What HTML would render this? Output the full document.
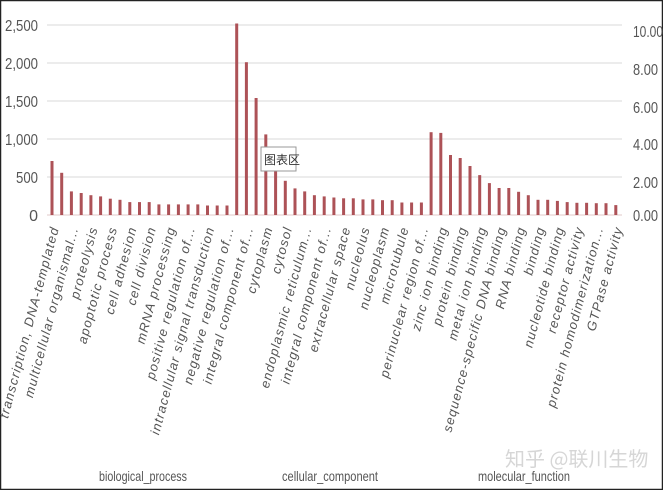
<!DOCTYPE html>
<html><head><meta charset="utf-8"><style>
body{margin:0;background:#fff}
svg{display:block}
</style></head><body>
<svg width="663" height="490" xmlns="http://www.w3.org/2000/svg" font-family="Liberation Sans, sans-serif">
<rect x="0.5" y="0.5" width="662" height="489" fill="#fff" stroke="#222" stroke-width="1.5"/>
<g stroke="#d9d9d9" stroke-width="1">
<line x1="47" x2="622" y1="25" y2="25"/><line x1="47" x2="622" y1="63" y2="63"/>
<line x1="47" x2="622" y1="101" y2="101"/><line x1="47" x2="622" y1="139" y2="139"/>
<line x1="47" x2="622" y1="177" y2="177"/><line x1="47" x2="622" y1="215" y2="215" stroke="#e0c8c8"/>
</g>
<g fill="#555" font-size="16" text-anchor="end">
<text x="38" y="31" textLength="33" lengthAdjust="spacingAndGlyphs">2,500</text>
<text x="38" y="69" textLength="33" lengthAdjust="spacingAndGlyphs">2,000</text>
<text x="38" y="107" textLength="33" lengthAdjust="spacingAndGlyphs">1,500</text>
<text x="38" y="145" textLength="33" lengthAdjust="spacingAndGlyphs">1,000</text>
<text x="38" y="183" textLength="22" lengthAdjust="spacingAndGlyphs">500</text>
<text x="38" y="221">0</text>
</g>
<g fill="#555" font-size="16">
<text x="633" y="37" textLength="30" lengthAdjust="spacingAndGlyphs">10.00</text>
<text x="633" y="75" textLength="25" lengthAdjust="spacingAndGlyphs">8.00</text>
<text x="633" y="113" textLength="25" lengthAdjust="spacingAndGlyphs">6.00</text>
<text x="633" y="150" textLength="25" lengthAdjust="spacingAndGlyphs">4.00</text>
<text x="633" y="188" textLength="25" lengthAdjust="spacingAndGlyphs">2.00</text>
<text x="633" y="221" textLength="25" lengthAdjust="spacingAndGlyphs">0.00</text>
</g>
<g id="bars" fill="#ad5257"></g>
<g id="labels" fill="#555" font-size="13" font-style="italic" text-anchor="end" letter-spacing="1.1"></g>
<rect x="261" y="147" width="35" height="24" fill="#fff" stroke="#999"/>
<text x="264" y="164" font-size="12" fill="#333" font-family="Noto Sans CJK SC, sans-serif">图表区</text>
<g fill="#555" font-size="14">
<text x="143" y="481" text-anchor="middle" textLength="88" lengthAdjust="spacingAndGlyphs">biological_process</text>
<text x="330" y="481" text-anchor="middle" textLength="96" lengthAdjust="spacingAndGlyphs">cellular_component</text>
<text x="524" y="481" text-anchor="middle" textLength="92" lengthAdjust="spacingAndGlyphs">molecular_function</text>
</g>
<text x="505" y="466" font-size="20" fill="#d6d6d6" font-family="Noto Sans CJK SC, sans-serif">知乎 @联川生物</text>
</svg>
<script>
var v=[710,555,310,290,260,245,215,200,170,170,170,140,140,140,140,140,125,125,125,2520,2010,1540,1060,700,450,350,310,260,245,230,220,220,205,205,195,195,165,165,165,1090,1080,790,750,645,525,420,355,355,305,260,200,200,185,170,160,160,155,155,130];
var b=document.getElementById('bars'),s='';
for(var i=0;i<v.length;i++){var x=52+i*9.72,h=v[i]*0.076;s+='<rect x="'+(x-1.5).toFixed(1)+'" y="'+(215-h).toFixed(1)+'" width="3" height="'+h.toFixed(1)+'"/>';}
b.innerHTML=s;
var L=["transcription, DNA-templated","multicellular organismal...","proteolysis","apoptotic process","cell adhesion","cell division","mRNA processing","positive regulation of...","intracellular signal transduction","negative regulation of...","integral component of...","cytoplasm","cytosol","endoplasmic reticulum...","integral component of...","extracellular space","nucleolus","nucleoplasm","microtubule","perinuclear region of...","zinc ion binding","protein binding","metal ion binding","sequence-specific DNA binding","RNA binding","binding","nucleotide binding","receptor activity","protein homodimerization...","GTPase activity"];
var g=document.getElementById('labels'),t='';
for(var j=0;j<L.length;j++){var x=59+j*19.44,y=228;t+='<text transform="translate('+x.toFixed(1)+','+y+') rotate(-75)">'+L[j]+'</text>';}
g.innerHTML=t;
</script>
</body></html>
